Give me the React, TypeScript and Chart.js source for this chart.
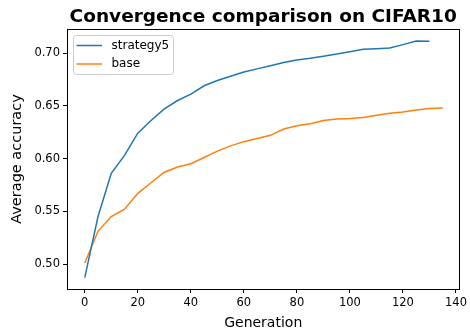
import React, { useEffect, useRef } from "react";
import { Chart, registerables } from "chart.js";

Chart.register(...registerables);

const TITLE = "Convergence comparison on CIFAR10";
const X_LABEL = "Generation";
const Y_LABEL = "Average accuracy";
const X_TICKS = [0, 20, 40, 60, 80, 100, 120, 140];
const Y_TICKS = [0.5, 0.55, 0.6, 0.65, 0.7];

const STRATEGY5_X = [0, 5, 10, 15, 20, 25, 30, 35, 40, 45, 50, 55, 60, 65, 70, 75, 80, 85, 90, 95, 100, 105, 110, 115, 120, 125, 130];
const STRATEGY5_Y = [0.487, 0.545, 0.586, 0.603, 0.624, 0.636, 0.647, 0.655, 0.661, 0.669, 0.674, 0.678, 0.682, 0.685, 0.688, 0.691, 0.6935, 0.695, 0.697, 0.699, 0.7013, 0.7035, 0.704, 0.7047, 0.708, 0.7115, 0.7113];

const BASE_X = [0, 5, 10, 15, 20, 25, 30, 35, 40, 45, 50, 55, 60, 65, 70, 75, 80, 85, 90, 95, 100, 105, 110, 115, 120, 125, 130, 135];
const BASE_Y = [0.501, 0.531, 0.545, 0.552, 0.567, 0.577, 0.587, 0.592, 0.595, 0.601, 0.607, 0.612, 0.616, 0.619, 0.622, 0.628, 0.631, 0.633, 0.636, 0.6375, 0.638, 0.639, 0.641, 0.643, 0.644, 0.646, 0.6475, 0.648];

const BLUE = "#1f77b4";
const ORANGE = "#ff7f0e";
const FONT = "'DejaVu Sans', sans-serif";

export default function App() {
  const ref = useRef<HTMLCanvasElement | null>(null);

  useEffect(() => {
    document.body.style.margin = "0";
    const canvas = ref.current;
    if (!canvas) return;

    const decor = {
      id: "decor",
      afterDraw(chart: any) {
        const { ctx, chartArea } = chart;
        const { left, right, top, bottom } = chartArea;
        ctx.save();
        // frame
        ctx.strokeStyle = "#000";
        ctx.lineWidth = 1;
        ctx.strokeRect(Math.round(left) + 0.5, Math.round(top) + 0.5, Math.round(right - left), Math.round(bottom - top));
        // title
        ctx.fillStyle = "#000";
        ctx.font = `bold 18.5px ${FONT}`;
        ctx.textAlign = "center";
        ctx.textBaseline = "alphabetic";
        ctx.fillText(TITLE, (left + right) / 2, top - 7);
        // x label
        ctx.font = `14px ${FONT}`;
        ctx.textBaseline = "middle";
        ctx.fillText(X_LABEL, (left + right) / 2, 323);
        // y label
        ctx.font = `14.5px ${FONT}`;
        ctx.save();
        ctx.translate(17, (top + bottom) / 2);
        ctx.rotate(-Math.PI / 2);
        ctx.fillText(Y_LABEL, 0, 0);
        ctx.restore();
        // legend
        const lx = left + 6, ly = top + 6, lw = 100, lh = 39;
        ctx.fillStyle = "rgba(255,255,255,0.8)";
        ctx.strokeStyle = "#cccccc";
        ctx.lineWidth = 1;
        ctx.beginPath();
        const r = 3;
        ctx.moveTo(lx + r + 0.5, ly + 0.5);
        ctx.arcTo(lx + lw + 0.5, ly + 0.5, lx + lw + 0.5, ly + lh + 0.5, r);
        ctx.arcTo(lx + lw + 0.5, ly + lh + 0.5, lx + 0.5, ly + lh + 0.5, r);
        ctx.arcTo(lx + 0.5, ly + lh + 0.5, lx + 0.5, ly + 0.5, r);
        ctx.arcTo(lx + 0.5, ly + 0.5, lx + lw + 0.5, ly + 0.5, r);
        ctx.closePath();
        ctx.fill();
        ctx.stroke();
        const items = chart.data.datasets;
        ctx.font = `12px ${FONT}`;
        ctx.textAlign = "left";
        ctx.textBaseline = "middle";
        items.forEach((ds: any, i: number) => {
          const yy = ly + 10.5 + i * 18.5;
          ctx.strokeStyle = ds.borderColor;
          ctx.lineWidth = 1.5;
          ctx.beginPath();
          ctx.moveTo(lx + 3.5, yy);
          ctx.lineTo(lx + 29, yy);
          ctx.stroke();
          ctx.fillStyle = "#000";
          ctx.fillText(ds.label, lx + 38.5, yy);
        });
        ctx.restore();
      },
    };

    const chart = new Chart(canvas, {
      type: "line",
      data: {
        datasets: [
          {
            label: "strategy5",
            data: STRATEGY5_X.map((x, i) => ({ x, y: STRATEGY5_Y[i] })),
            borderColor: BLUE,
            backgroundColor: BLUE,
            borderWidth: 1.5,
            pointRadius: 0,
            tension: 0,
          },
          {
            label: "base",
            data: BASE_X.map((x, i) => ({ x, y: BASE_Y[i] })),
            borderColor: ORANGE,
            backgroundColor: ORANGE,
            borderWidth: 1.5,
            pointRadius: 0,
            tension: 0,
          },
        ],
      },
      options: {
        animation: false,
        responsive: false,
        maintainAspectRatio: false,
        layout: { padding: { top: 29, right: 5, left: 0, bottom: 0 } },
        plugins: { legend: { display: false }, title: { display: false }, tooltip: { enabled: false } },
        scales: {
          x: {
            type: "linear",
            min: -6.7,
            max: 141.3,
            afterBuildTicks: (s: any) => { s.ticks = X_TICKS.map((v) => ({ value: v })); },
            afterFit: (s: any) => { s.height = 47; },
            grid: { drawOnChartArea: false, drawTicks: true, tickLength: 4, color: "#000", tickColor: "#000" },
            border: { display: false },
            ticks: { color: "#000", font: { family: FONT, size: 11.5 }, padding: 3, maxRotation: 0, callback: (v: any) => String(v) },
          },
          y: {
            type: "linear",
            min: 0.4763,
            max: 0.7228,
            afterBuildTicks: (s: any) => { s.ticks = Y_TICKS.map((v) => ({ value: v })); },
            afterFit: (s: any) => { s.width = 67; },
            grid: { drawOnChartArea: false, drawTicks: true, tickLength: 4, color: "#000", tickColor: "#000" },
            border: { display: false },
            ticks: { color: "#000", font: { family: FONT, size: 11.5 }, padding: 3, callback: (v: any) => Number(v).toFixed(2) },
          },
        },
      },
      plugins: [decor],
    });
    return () => chart.destroy();
  }, []);

  return (
    <div style={{ width: 470, height: 336 }}>
      <canvas ref={ref} width={470} height={336} style={{ display: "block" }} />
    </div>
  );
}
